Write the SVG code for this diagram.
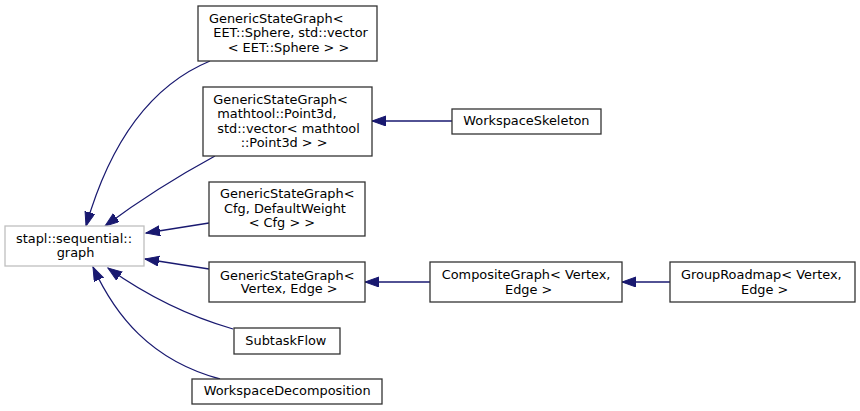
<svg xmlns="http://www.w3.org/2000/svg" width="860" height="411" viewBox="0 0 860 411">
<style>
.box{fill:#fff;stroke:#333;stroke-width:1.3}
.gray{fill:#fff;stroke:#bfbfbf;stroke-width:1.3}
text{font-family:"DejaVu Sans",sans-serif;font-size:12.9px;fill:#000}
.edge{fill:none;stroke:#191970;stroke-width:1.3;marker-end:url(#ah)}
</style>
<defs>
<marker id="ah" markerUnits="userSpaceOnUse" markerWidth="16" markerHeight="12" refX="14" refY="5" orient="auto">
<path d="M0,0 L14,5 L0,10 Z" fill="#191970" stroke="#191970" stroke-width="1"/>
</marker>
</defs>
<rect width="860" height="411" fill="#fff"/>
<g id="connectors">
<path class="edge" d="M210,61 C140,90 105,160 86,226"/>
<path class="edge" d="M215,156 C180,175 140,200 105,226"/>
<path class="edge" d="M209,223 L146,233"/>
<path class="edge" d="M209,269 L145,259"/>
<path class="edge" d="M233,329 C195,318 150,298 108,268"/>
<path class="edge" d="M220,379 C150,360 115,315 93,267"/>
<path class="edge" d="M452,121 L372,121"/>
<path class="edge" d="M430,282 L365,282"/>
<path class="edge" d="M670,282 L622,282"/>
</g>
<g id="stapl">
<rect class="gray" x="5" y="226" width="139" height="40"/>
<text x="16" y="242.8">stapl::sequential::</text>
<text x="56.7" y="256.8">graph</text>
</g>
<g id="gsg_sphere">
<rect class="box" x="198" y="6" width="179" height="55"/>
<text x="209" y="22.5">GenericStateGraph&lt;</text>
<text x="213.3" y="37">EET::Sphere, std::vector</text>
<text x="227.7" y="51.5">&lt; EET::Sphere &gt; &gt;</text>
</g>
<g id="gsg_point3d">
<rect class="box" x="203" y="87" width="169" height="69"/>
<text x="213.3" y="103.5">GenericStateGraph&lt;</text>
<text x="217.3" y="118">mathtool::Point3d,</text>
<text x="217.3" y="132.5">std::vector&lt; mathtool</text>
<text x="240.7" y="147">::Point3d &gt; &gt;</text>
</g>
<g id="gsg_cfg">
<rect class="box" x="209" y="182" width="156" height="54"/>
<text x="220" y="197.5">GenericStateGraph&lt;</text>
<text x="224" y="212.5">Cfg, DefaultWeight</text>
<text x="248.7" y="227">&lt; Cfg &gt; &gt;</text>
</g>
<g id="gsg_vertex">
<rect class="box" x="209" y="262" width="156" height="40"/>
<text x="220" y="279.5">GenericStateGraph&lt;</text>
<text x="240.7" y="293">Vertex, Edge &gt;</text>
</g>
<g id="subtaskflow">
<rect class="box" x="234" y="328" width="106" height="26"/>
<text x="245.3" y="344.5">SubtaskFlow</text>
</g>
<g id="workspacedecomposition">
<rect class="box" x="192" y="379" width="190" height="25"/>
<text x="203.7" y="395.2">WorkspaceDecomposition</text>
</g>
<g id="workspaceskeleton">
<rect class="box" x="452" y="109" width="149" height="25"/>
<text x="463.3" y="125.2">WorkspaceSkeleton</text>
</g>
<g id="compositegraph">
<rect class="box" x="430" y="262" width="192" height="40"/>
<text x="441.7" y="278.8">CompositeGraph&lt; Vertex,</text>
<text x="505" y="293.5">Edge &gt;</text>
</g>
<g id="grouproadmap">
<rect class="box" x="670" y="262" width="185" height="40"/>
<text x="681" y="278.8">GroupRoadmap&lt; Vertex,</text>
<text x="741" y="293.5">Edge &gt;</text>
</g>
</svg>
